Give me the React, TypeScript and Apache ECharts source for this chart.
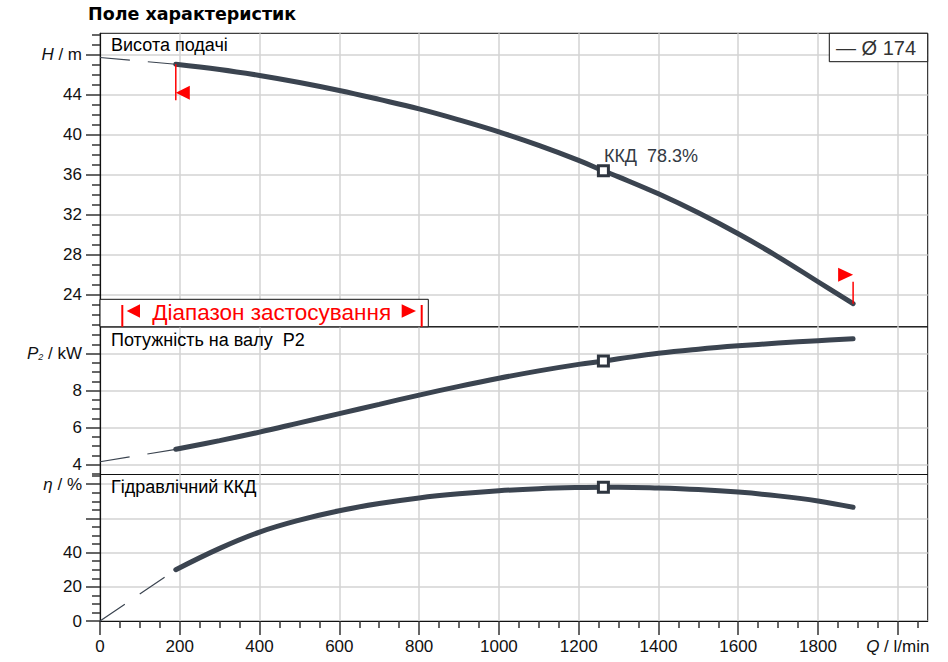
import React, { useEffect, useRef } from 'react';
import * as echarts from 'echarts';

// ---- data ----
const flowQ = [190, 300, 400, 500, 600, 700, 800, 900, 1000, 1100, 1200, 1262, 1300, 1400, 1500, 1600, 1700, 1800, 1888];
const headH = [47.07, 46.55, 45.95, 45.25, 44.45, 43.55, 42.6, 41.5, 40.3, 38.95, 37.45, 36.4, 35.8, 34.1, 32.2, 30.1, 27.8, 25.3, 23.1];
const powerP2 = [4.83, 5.3, 5.76, 6.26, 6.76, 7.26, 7.76, 8.23, 8.67, 9.07, 9.42, 9.6, 9.72, 10.02, 10.24, 10.42, 10.57, 10.7, 10.8];
const effEta = [30, 42.5, 52, 59, 64.5, 68.7, 72, 74.4, 76.2, 77.4, 78.1, 78.3, 78.3, 77.8, 76.9, 75.4, 73.2, 70.2, 66.5];
const bepIndex = 11;

const extQ = [0, 190];
const extH = [47.75, 47.07];
const extP2 = [4.16, 4.83];
const extEta = [0, 30];

// ---- ticks ----
const qMajor = [0, 200, 400, 600, 800, 1000, 1200, 1400, 1600, 1800, 2000];
const qMinor = [50, 100, 150, 250, 300, 350, 450, 500, 550, 650, 700, 750, 850, 900, 950, 1050, 1100, 1150, 1250, 1300, 1350, 1450, 1500, 1550, 1650, 1700, 1750, 1850, 1900, 1950, 2050];
const hMajor = [24, 28, 32, 36, 40, 44, 48];
const hMinor = [21, 22, 23, 25, 26, 27, 29, 30, 31, 33, 34, 35, 37, 38, 39, 41, 42, 43, 45, 46, 47, 49, 50];
const pMajor = [4, 6, 8, 10];
const pMinor = [3.5, 4.5, 5, 5.5, 6.5, 7, 7.5, 8.5, 9, 9.5, 10.5, 11];
const eMajor = [0, 20, 40, 60, 80];
const eLabels = [0, 20, 40, 80];
const eMinor = [5, 10, 15, 25, 30, 35, 45, 50, 55, 65, 70, 75, 85];

const legendName = 'Ø 174';
const title = 'Поле характеристик';
const panelTitles = ['Висота подачі', 'Потужність на валу  P2', 'Гідравлічний ККД'];
const rangeText = 'Діапазон застосування';

const CURVE = '#3b4450';
const GRIDC = '#d3d3d3';
const AXC = '#111';
const FONT = '"Liberation Sans", Arial, sans-serif';

const G_LEFT = 100;
const G_W = 827.7;
const grids = [
  { top: 33.3, height: 293.5 },
  { top: 326.8, height: 147.7 },
  { top: 474.5, height: 146.5 },
];

const X_MIN = 0;
const X_MAX = 2075;

function pairs(xs: number[], ys: number[]) {
  return xs.map((x, i) => [x, ys[i]]);
}

export default function App() {
  const ref = useRef<HTMLDivElement>(null);
  useEffect(() => {
    const chart = echarts.init(ref.current!, null, { renderer: 'svg' });

    const hiddenX = (gi: number) => ({
      type: 'value', gridIndex: gi, min: X_MIN, max: X_MAX, interval: 200,
      axisLine: { show: false },
      axisTick: { show: false, customValues: qMajor },
      axisLabel: { show: false },
      splitLine: { show: true, lineStyle: { color: GRIDC, width: 1.5 } },
    });

    const rich = {
      i: { fontStyle: 'italic', fontSize: 17, fontFamily: FONT, color: AXC },
      n: { fontSize: 17, fontFamily: FONT, color: AXC },
      s: { fontSize: 9, fontStyle: 'italic', fontFamily: FONT, color: AXC, padding: [7, 0, 0, 0] },
    };

    const majorY = (gi: number, min: number, max: number, ticks: number[], labels: number[], fmt: (v: number) => string) => ({
      type: 'value', gridIndex: gi, position: 'left', min, max,
      axisLine: { show: true, lineStyle: { color: AXC, width: 1.2 } },
      axisTick: { show: true, length: 14, customValues: ticks, lineStyle: { color: '#333', width: 1.5 } },
      axisLabel: { show: true, customValues: labels, formatter: fmt, fontSize: 17, color: AXC, margin: 18, rich },
      splitLine: { show: true, lineStyle: { color: GRIDC, width: 1.5 } },
    });
    const minorY = (gi: number, min: number, max: number, ticks: number[]) => ({
      type: 'value', gridIndex: gi, position: 'left', min, max, offset: 0,
      axisLine: { show: false },
      axisTick: { show: true, length: 8, customValues: ticks, lineStyle: { color: '#333', width: 1.5 } },
      axisLabel: { show: false },
      splitLine: { show: false },
    });

    const mainLine = (xi: number, yi: number, ys: number[]) => ({
      type: 'line', xAxisIndex: xi, yAxisIndex: yi, data: pairs(flowQ, ys),
      smooth: 0.4, showSymbol: false, silent: true, z: 5,
      lineStyle: { color: CURVE, width: 5, cap: 'round' },
    });
    const extLine = (xi: number, yi: number, ys: number[]) => ({
      type: 'line', xAxisIndex: xi, yAxisIndex: yi, data: pairs(extQ, ys),
      showSymbol: false, silent: true, z: 4,
      lineStyle: { color: CURVE, width: 1.2, type: [30, 18] },
    });
    const bep = (xi: number, yi: number, ys: number[], label?: any) => ({
      type: 'scatter', xAxisIndex: xi, yAxisIndex: yi, data: [[flowQ[bepIndex], ys[bepIndex]]],
      symbol: 'rect', symbolSize: 10, z: 6, silent: true,
      itemStyle: { color: '#ffffff', opacity: 1, borderColor: '#2f3640', borderWidth: 3 },
      label: label || { show: false },
    });

    chart.setOption({
      animation: false,
      textStyle: { fontFamily: FONT },
      grid: grids.map((g) => ({
        left: G_LEFT, top: g.top, width: G_W, height: g.height,
        show: true, borderColor: AXC, borderWidth: 1, backgroundColor: 'transparent',
      })),
      xAxis: [
        hiddenX(0),
        hiddenX(1),
        {
          type: 'value', gridIndex: 2, position: 'bottom', min: X_MIN, max: X_MAX, interval: 200,
          axisLine: { show: true, lineStyle: { color: AXC, width: 1.2 } },
          axisTick: { show: true, length: 14, customValues: qMajor, lineStyle: { color: '#333', width: 1.5 } },
          axisLabel: {
            show: true, customValues: qMajor, fontSize: 17, color: AXC, margin: 17, rich,
            formatter: (v: number) => (v === 2000 ? '{i|Q} {n|/ l/min}' : String(v)),
          },
          splitLine: { show: true, lineStyle: { color: GRIDC, width: 1.5 } },
        },
        {
          type: 'value', gridIndex: 2, position: 'bottom', min: X_MIN, max: X_MAX, offset: 0,
          axisLine: { show: false },
          axisTick: { show: true, length: 7, customValues: qMinor, lineStyle: { color: '#333', width: 1.5 } },
          axisLabel: { show: false },
          splitLine: { show: false },
        },
      ],
      yAxis: [
        majorY(0, 20.79, 50.17, hMajor, hMajor, (v: number) => (v === 48 ? '{i|H} {n|/ m}' : String(v))),
        minorY(0, 20.79, 50.17, hMinor),
        majorY(1, 3.47, 11.45, pMajor, pMajor, (v: number) => (v === 10 ? '{i|P}{s|2} {n|/ kW}' : String(v))),
        minorY(1, 3.47, 11.45, pMinor),
        majorY(2, 0, 85.7, eMajor, eLabels, (v: number) => (v === 80 ? '{i|η} {n|/ %}' : String(v))),
        minorY(2, 0, 85.7, eMinor),
      ],
      series: [
        extLine(0, 0, extH),
        mainLine(0, 0, headH),
        bep(0, 0, headH, {
          show: true, formatter: `ККД  ${effEta[bepIndex]}%`, position: [7, -8],
          verticalAlign: 'middle', align: 'left', fontSize: 18, color: '#333a44', fontFamily: FONT,
        }),
        extLine(1, 2, extP2),
        mainLine(1, 2, powerP2),
        bep(1, 2, powerP2),
        extLine(2, 4, extEta),
        mainLine(2, 4, effEta),
        bep(2, 4, effEta),
      ],
    });

    const n = flowQ.length;
    const ps = chart.convertToPixel({ xAxisIndex: 0, yAxisIndex: 0 }, [flowQ[0], headH[0]]) as number[];
    const pe = chart.convertToPixel({ xAxisIndex: 0, yAxisIndex: 0 }, [flowQ[n - 1], headH[n - 1]]) as number[];
    const RED = '#ff0000';

    const hBottom = grids[0].top + grids[0].height;
    const boxTop = 299.3;

    chart.setOption({
      graphic: [
        { type: 'text', left: 88, top: 5, z: 100, style: { text: title, font: 'bold 17.5px "DejaVu Sans", Verdana, sans-serif', fill: '#000' } },
        { type: 'text', x: 111, y: 45, z: 100, style: { text: panelTitles[0], fontSize: 18, fontFamily: FONT, fill: '#000', verticalAlign: 'middle' } },
        { type: 'text', x: 111, y: 340, z: 100, style: { text: panelTitles[1], fontSize: 18, fontFamily: FONT, fill: '#000', verticalAlign: 'middle' } },
        { type: 'text', x: 111, y: 487, z: 100, style: { text: panelTitles[2], fontSize: 18, fontFamily: FONT, fill: '#000', verticalAlign: 'middle' } },
        // legend box
        { type: 'rect', z: 100, shape: { x: 829.3, y: grids[0].top, width: G_LEFT + G_W - 829.3, height: 28.4 }, style: { fill: '#fff', stroke: AXC, lineWidth: 1 } },
        { type: 'text', x: 836, y: 47.5, z: 101, style: { text: '— ' + legendName, fontSize: 20, fontFamily: FONT, fill: '#333', verticalAlign: 'middle' } },
        // range box
        { type: 'rect', z: 100, shape: { x: G_LEFT, y: boxTop, width: 328.3, height: hBottom - boxTop }, style: { fill: '#fff', stroke: AXC, lineWidth: 1 } },
        { type: 'line', z: 101, shape: { x1: 122.3, y1: 305, x2: 122.3, y2: hBottom }, style: { stroke: RED, lineWidth: 2 } },
        { type: 'line', z: 101, shape: { x1: 421.7, y1: 305, x2: 421.7, y2: hBottom }, style: { stroke: RED, lineWidth: 2 } },
        { type: 'polygon', z: 101, shape: { points: [[126.7, 311], [140, 304.3], [140, 317.7]] }, style: { fill: RED } },
        { type: 'polygon', z: 101, shape: { points: [[416, 311], [401.7, 304.3], [401.7, 317.7]] }, style: { fill: RED } },
        { type: 'text', x: 271.7, y: 312, z: 101, style: { text: rangeText, fontSize: 22.5, fontFamily: FONT, fill: RED, align: 'center', verticalAlign: 'middle' } },
        // range limit markers on the H curve
        { type: 'line', z: 101, shape: { x1: ps[0], y1: ps[1], x2: ps[0], y2: ps[1] + 36 }, style: { stroke: RED, lineWidth: 1.5 } },
        { type: 'polygon', z: 101, shape: { points: [[ps[0], ps[1] + 28.5], [ps[0] + 14, ps[1] + 21.5], [ps[0] + 14, ps[1] + 35.5]] }, style: { fill: RED } },
        { type: 'line', z: 101, shape: { x1: pe[0], y1: pe[1], x2: pe[0], y2: pe[1] - 22 }, style: { stroke: RED, lineWidth: 1.5 } },
        { type: 'polygon', z: 101, shape: { points: [[pe[0], pe[1] - 29], [pe[0] - 15, pe[1] - 36], [pe[0] - 15, pe[1] - 22]] }, style: { fill: RED } },
      ],
    });

    return () => chart.dispose();
  }, []);

  return (
    <div
      ref={ref}
      style={{ position: 'fixed', left: 0, top: 0, width: 948, height: 662, background: '#fff' }}
    />
  );
}
